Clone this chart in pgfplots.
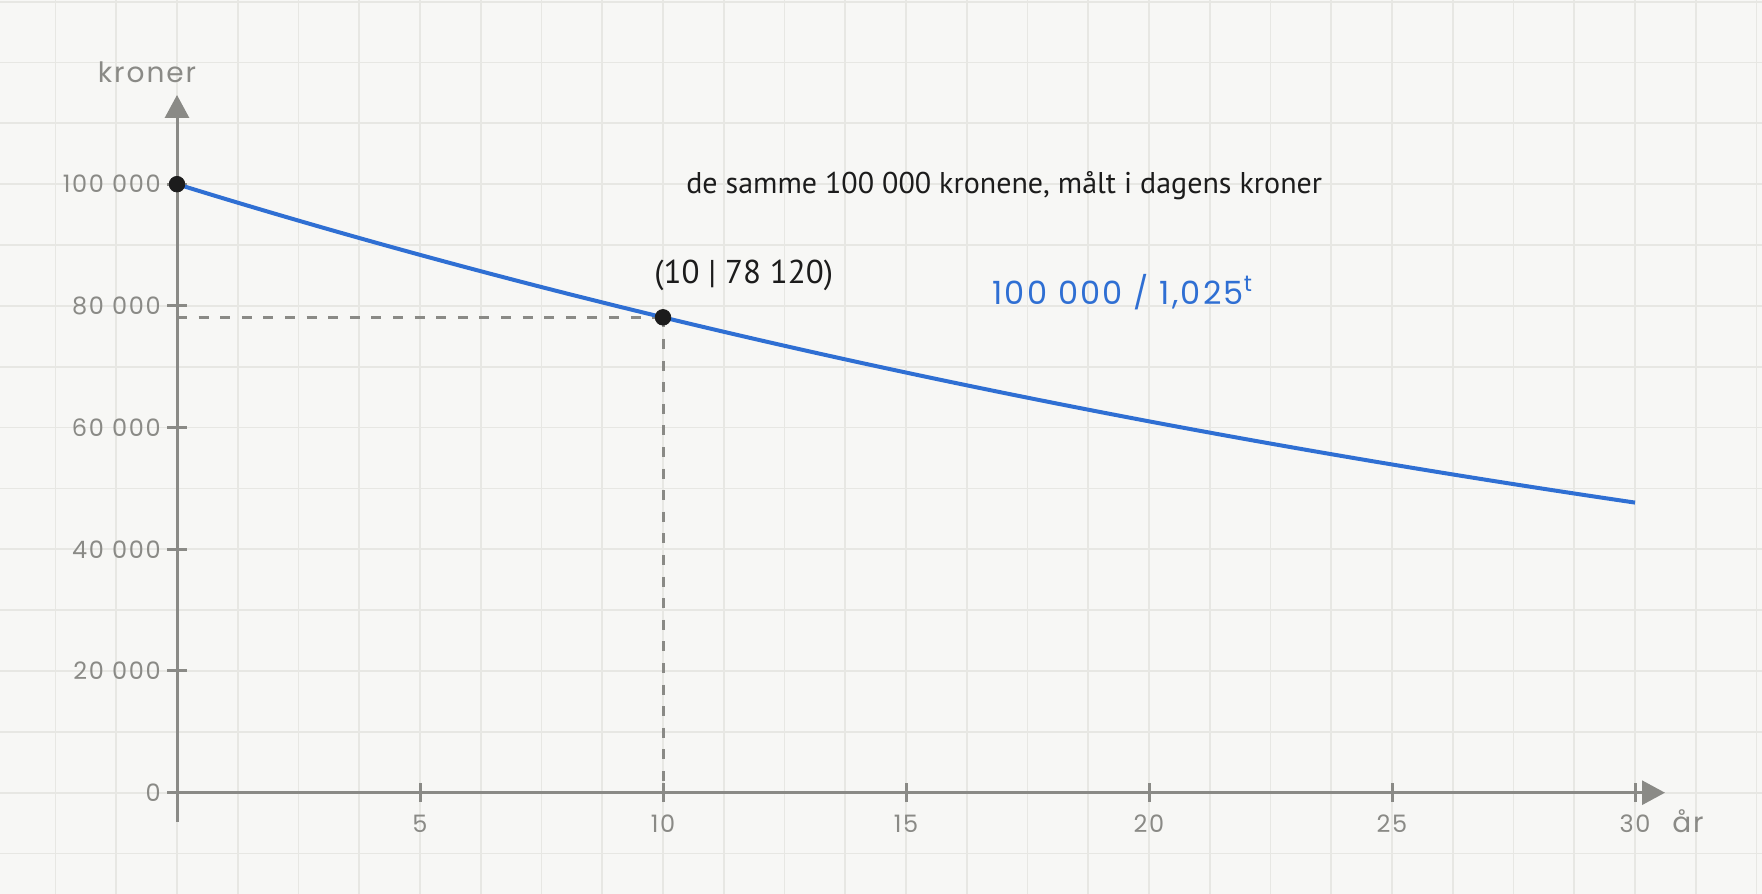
\documentclass[border=0pt]{standalone}
\usepackage{fontspec}
\setmainfont{Poppins}[LetterSpace=7]
\newfontfamily\annfont{PT Sans}
\usepackage{pgfplots}
\pgfplotsset{compat=1.18}
\usetikzlibrary{arrows.meta}

\definecolor{bg}{HTML}{F7F7F5}
\definecolor{gridc}{HTML}{E7E7E3}
\definecolor{axc}{HTML}{8A8A86}
\definecolor{curve}{HTML}{2F6FD3}
\definecolor{dot}{HTML}{1C1C1C}

\tikzset{
  tk/.style={axc, line width=1.5pt},
  tl/.style={inner sep=0pt, text=axc, font=\fontsize{12}{14}\selectfont},
  gl/.style={draw=gridc, line width=0.9pt},
}

\begin{document}
\begin{tikzpicture}
\begin{axis}[
  name=ax,
  scale only axis,
  width=881pt, height=447pt,
  xmin=-3.642, xmax=32.613,
  ymin=-16647, ymax=130271,
  axis background/.style={fill=bg},
  axis line style={draw=none},
  xtick=\empty, ytick=\empty,
  clip=false,
]
% background grid (square cells: 1.25 years x 10 000 kr)
\pgfplotsinvokeforeach{-2.5,-1.25,0,1.25,2.5,3.75,5,6.25,7.5,8.75,10,11.25,12.5,13.75,15,16.25,17.5,18.75,20,21.25,22.5,23.75,25,26.25,27.5,28.75,30,31.25,32.5}{
  \draw[gl] (axis cs:#1,-16647) -- (axis cs:#1,130271);
}
\pgfplotsinvokeforeach{-10000,0,10000,20000,30000,40000,50000,60000,70000,80000,90000,100000,110000,120000,130000}{
  \draw[gl] (axis cs:-3.642,#1) -- (axis cs:32.613,#1);
}

% axes
\draw[axc, line width=1.5pt, -{Triangle[length=11.5pt,width=12pt]}]
  (axis cs:0,-4766) -- (axis cs:0,114660);
\draw[axc, line width=1.5pt, -{Triangle[length=11.5pt,width=12pt]}]
  (axis cs:-0.2,0) -- (axis cs:30.617,0);

% y ticks
\pgfplotsinvokeforeach{0,20000,40000,60000,80000,100000}{
  \draw[tk] ([xshift=-5pt]axis cs:0,#1) -- ([xshift=5pt]axis cs:0,#1);
}
\node[tl, anchor=east] at ([xshift=-8pt]axis cs:0,0) {0};
\node[tl, anchor=east] at ([xshift=-8pt]axis cs:0,20000) {20~000};
\node[tl, anchor=east] at ([xshift=-8pt]axis cs:0,40000) {40~000};
\node[tl, anchor=east] at ([xshift=-8pt]axis cs:0,60000) {60~000};
\node[tl, anchor=east] at ([xshift=-8pt]axis cs:0,80000) {80~000};
\node[tl, anchor=east] at ([xshift=-8pt]axis cs:0,100000) {100~000};

% x ticks
\pgfplotsinvokeforeach{5,10,15,20,25,30}{
  \draw[tk] ([yshift=-4.6pt]axis cs:#1,0) -- ([yshift=4.6pt]axis cs:#1,0);
  \node[tl, anchor=north] at ([yshift=-11pt]axis cs:#1,0) {#1};
}

\node[anchor=base, inner sep=0pt, text=axc, font=\fontsize{14}{16}\selectfont]
  at (axis cs:-0.617,116630) {kroner};
\node[anchor=base west, inner sep=0pt, text=axc, font=\fontsize{14}{16}\selectfont]
  at (axis cs:30.76,-6606) {år};

% dashed guides
\addplot[axc, line width=1.5pt, dash pattern=on 5pt off 5.8pt] coordinates {(0,78120) (10,78120)};
\addplot[axc, line width=1.5pt, dash pattern=on 5pt off 5.8pt] coordinates {(10,78120) (10,0)};

% 100 000 / 1,025^t
\addplot[curve, line width=2pt, smooth] table {
t  v
0  100000
1  97560.98
2  95181.44
3  92859.94
4  90595.06
5  88385.43
6  86229.69
7  84126.53
8  82074.66
9  80072.84
10 78119.84
11 76214.48
12 74355.59
13 72542.04
14 70772.72
15 69046.56
16 67362.50
17 65719.51
18 64116.60
19 62552.78
20 61027.10
21 59538.63
22 58086.47
23 56669.73
24 55287.54
25 53939.06
26 52623.47
27 51339.97
28 50087.78
29 48866.13
30 47674.27
};

\addplot[only marks, mark=*, mark size=3.9pt, color=dot] coordinates {(0,100000) (10,78120)};

\node[anchor=base, inner sep=0pt, text=dot, font=\annfont\fontsize{16.5}{18}\selectfont]
  at (axis cs:11.66,83700) {(10 | 78~120)};
\node[anchor=base west, inner sep=0pt, text=dot, font=\annfont\fontsize{15}{17}\selectfont]
  at (axis cs:10.47,98400) {de samme 100 000 kronene, målt i dagens kroner};
\node[anchor=base west, inner sep=0pt, text=curve, font=\fontsize{16}{18}\selectfont]
  at (axis cs:16.77,80300) {100~000 / 1,025\textsuperscript{t}};
\end{axis}
\pgfresetboundingbox
\path[use as bounding box] (ax.south west) rectangle (ax.north east);
\end{tikzpicture}
\end{document}
